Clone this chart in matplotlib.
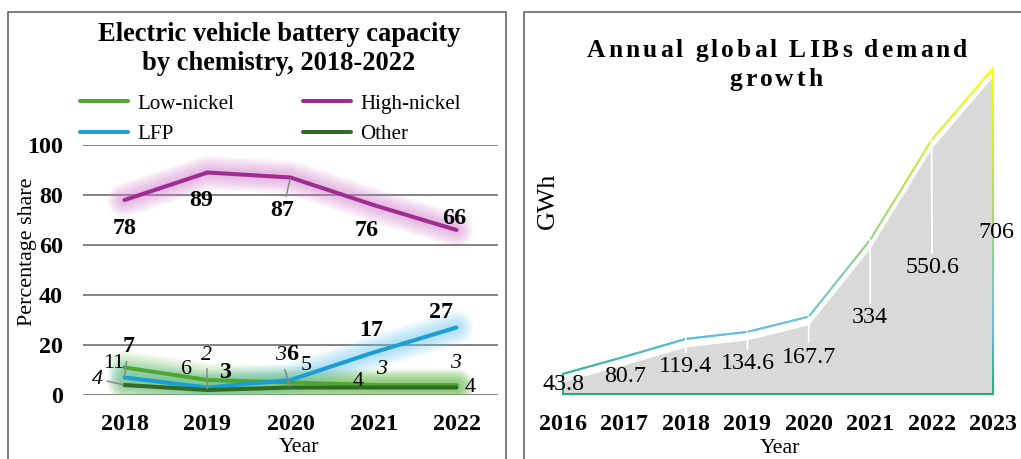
import matplotlib
matplotlib.use("Agg")
import matplotlib.pyplot as plt
import numpy as np
from matplotlib import transforms
from matplotlib.collections import LineCollection
from matplotlib.colors import LinearSegmentedColormap
from matplotlib.patches import Rectangle
from matplotlib.font_manager import FontProperties, findfont
from matplotlib.ft2font import FT2Font

plt.rcParams["font.family"] = ["Liberation Serif", "DejaVu Serif"]

# ---- data: EV battery chemistry shares (%) ----
share_years = ["2018", "2019", "2020", "2021", "2022"]
low_nickel = [11, 6, 5, 4, 4]
high_nickel = [78, 89, 87, 76, 66]
lfp = [7, 3, 6, 17, 27]
other = [4, 2, 3, 3, 3]

# ---- data: annual global LIB demand (GWh) ----
demand_years = ["2016", "2017", "2018", "2019", "2020", "2021", "2022", "2023"]
demand_gwh = [43.8, 80.7, 119.4, 134.6, 167.7, 334, 550.6, 706]

W, H, DPI = 1021, 459, 100
PT = 72 / DPI  # points per pixel

fig = plt.figure(figsize=(W / DPI, H / DPI), dpi=DPI)


def rect_px(x0, y0, x1, y1):
    """Figure-fraction rectangle from pixel box (origin top-left)."""
    return [x0 / W, 1 - y1 / H, (x1 - x0) / W, (y1 - y0) / H]


# panel frames
fig.add_artist(Rectangle((8 / W, -0.05), 498 / W, 1.05 - 12 / H, transform=fig.transFigure,
                         fill=False, ec="#5a5a5a", lw=1.1, zorder=0))
fig.add_artist(Rectangle((524 / W, -0.05), 0.6, 1.05 - 12 / H, transform=fig.transFigure,
                         fill=False, ec="#5a5a5a", lw=1.1, zorder=0))

BOLD_PX = 24
REG_PX = 22

# ================= left: chemistry shares =================
ax1 = fig.add_axes(rect_px(83, 145, 498, 395))
x = np.arange(len(share_years))
ax1.set_xlim(-0.5, len(share_years) - 0.5)
ax1.set_ylim(0, 100)
ax1.set_yticks(np.arange(0, 101, 20))
ax1.set_xticks(x, share_years)
ax1.grid(axis="y", color="#7a7a7a", lw=1.3)
ax1.set_axisbelow(True)
for s in ax1.spines.values():
    s.set_visible(False)
ax1.tick_params(length=0, labelsize=BOLD_PX * PT)
ax1.tick_params(axis="y", pad=14.4)
ax1.tick_params(axis="x", pad=14)
for lab in ax1.get_xticklabels() + ax1.get_yticklabels():
    lab.set_fontweight("bold")

series = [
    ("Low-nickel", low_nickel, "#4ea72e", "#7cc763"),
    ("High-nickel", high_nickel, "#a02b93", "#d27fcb"),
    ("LFP", lfp, "#1b9dd6", "#6ecbef"),
    ("Other", other, "#2f6b22", "#6cb955"),
]

# soft glow under each line
for _, vals, _, glow in series:
    for k in range(11):
        ax1.plot(x, vals, color=glow, lw=(4 + 3 * k) * PT, alpha=0.065,
                 solid_capstyle="round", solid_joinstyle="round", zorder=1)

handles = {}
for name, vals, col, _ in series:
    (ln,) = ax1.plot(x, vals, color=col, lw=4 * PT, solid_capstyle="round",
                     solid_joinstyle="round", zorder=3, label=name)
    handles[name] = ln

# data labels: (dx, dy) offsets in pixels, y up
label_style = {
    "High-nickel": dict(offs=[(0, -29), (-6, -27.5), (-8, -33.5), (-7, -25), (-2, 11)],
                        leader=[False, False, True, False, False], weight="bold", style="normal", size=BOLD_PX),
    "LFP": dict(offs=[(4, 30.5), (18, 14.5), (2, 25), (-2, 22.5), (-16, 15.5)],
                leader=[True, False, False, False, False], weight="bold", style="normal", size=BOLD_PX),
    "Low-nickel": dict(offs=[(-11, 4.5), (-21, 10), (16, 16.5), (-15, 4), (14, -3)],
                       leader=[False] * 5, weight="normal", style="normal", size=REG_PX),
    "Other": dict(offs=[(-27, 6), (-1, 35), (-10, 31.5), (8, 17.5), (-1, 24.5)],
                  leader=[True, True, True, False, False], weight="normal", style="italic", size=REG_PX),
}
for name, vals, _, _ in series:
    st = label_style[name]
    for xi, v, (dx, dy), lead in zip(x, vals, st["offs"], st["leader"]):
        kw = {}
        if lead:
            kw["arrowprops"] = dict(arrowstyle="-", color="#8a8a8a", lw=1.1, shrinkA=1, shrinkB=1)
        ax1.annotate(f"{v}", (xi, v), xytext=(dx * PT, dy * PT), textcoords="offset points",
                     ha="center", va="center", fontsize=st["size"] * PT,
                     fontweight=st["weight"], fontstyle=st["style"], zorder=5, **kw)

ax1.set_ylabel("Percentage share", fontsize=REG_PX * PT, va="center")
ax1.yaxis.set_label_coords((28 - 83) / 415, (395 - 252) / 250)
ax1.set_xlabel("Year", fontsize=REG_PX * PT, va="center")
ax1.xaxis.set_label_coords((299 - 83) / 415, (395 - 447) / 250)

fig.text(279 / W, 1 - 49 / H, "Electric vehicle battery capacity\nby chemistry, 2018-2022",
         ha="center", va="center", fontsize=26.5 * PT, fontweight="bold", linespacing=1.2)

leg_order = ["Low-nickel", "LFP", "High-nickel", "Other"]
fig.legend([handles[n] for n in leg_order], leg_order, ncol=2, loc="upper left",
           bbox_to_anchor=(80 / W, 1 - 94 / H), frameon=False, fontsize=21 * PT,
           handlelength=2.29, handletextpad=0.43, columnspacing=3.29,
           labelspacing=0.5, borderpad=0, borderaxespad=0)

# ================= right: LIB demand =================
ax2 = fig.add_axes(rect_px(563, 48, 993, 394))
xd = np.arange(len(demand_years))
ax2.set_xlim(0, len(demand_years) - 1)
ax2.set_ylim(0, 750)
for s in ax2.spines.values():
    s.set_visible(False)
ax2.set_yticks([])
ax2.set_xticks(xd, demand_years)
ax2.tick_params(length=0, labelsize=BOLD_PX * PT, pad=14.5)
for lab in ax2.get_xticklabels():
    lab.set_fontweight("bold")

# grey area, sitting a little below the outline
shifted = transforms.offset_copy(ax2.transData, fig=fig, x=0, y=-8, units="dots")
ax2.fill_between(xd, demand_gwh, 0, color="#d9d9d9", lw=0, transform=shifted, zorder=1)

# gradient outline coloured by height
edge_cmap = LinearSegmentedColormap.from_list(
    "edge", [(0.0, "#1fb077"), (0.2, "#62c0ea"), (0.5, "#9dd57a"), (1.0, "#ffff00")])
top = max(demand_gwh)
outline = list(zip(xd, demand_gwh)) + [(xd[-1], 0), (xd[0], 0), (xd[0], demand_gwh[0])]
segs, cols = [], []
for (x0, y0), (x1, y1) in zip(outline[:-1], outline[1:]):
    t = np.linspace(0, 1, 41)
    xs, ys = x0 + (x1 - x0) * t, y0 + (y1 - y0) * t
    for i in range(len(t) - 1):
        segs.append([(xs[i], ys[i]), (xs[i + 1], ys[i + 1])])
        cols.append(edge_cmap(0.5 * (ys[i] + ys[i + 1]) / top))
ax2.add_collection(LineCollection(segs, colors=cols, linewidths=2 * PT, clip_on=False,
                                  capstyle="round", zorder=2))

demand_offs = [(0, -11), (0.5, -20), (0, -28), (0.5, -32), (0, -40.5), (0, -78), (0.5, -128), (3, -164)]
demand_leader = [False, False, True, True, True, True, True, False]
for xi, v, (dx, dy), lead in zip(xd, demand_gwh, demand_offs, demand_leader):
    kw = {}
    if lead:
        kw["arrowprops"] = dict(arrowstyle="-", color="white", lw=1.3, shrinkA=1, shrinkB=0)
    ax2.annotate(f"{v:g}", (xi, v), xytext=(dx * PT, dy * PT), textcoords="offset points",
                 ha="center", va="center", fontsize=BOLD_PX * PT, zorder=4, **kw)

ax2.set_ylabel("GWh", fontsize=26 * PT, va="center")
ax2.yaxis.set_label_coords((548 - 563) / 430, (394 - 201) / 346)
ax2.set_xlabel("Year", fontsize=REG_PX * PT, va="center")
ax2.xaxis.set_label_coords((780 - 563) / 430, (394 - 448.5) / 346)


def tracked_line(text, cx, baseline, size_px, track_px):
    """Bold title line with expanded letter spacing, centred at cx."""
    fp = FontProperties(family="Liberation Serif", weight="bold", size=size_px * PT)
    font = FT2Font(findfont(fp))
    font.set_size(size_px * PT, DPI)
    adv = [font.load_char(ord(c)).linearHoriAdvance / 65536 for c in text]
    total = sum(adv) + track_px * (len(text) - 1)
    xpos = cx - total / 2
    for c, a in zip(text, adv):
        if c != " ":
            fig.text(xpos / W, 1 - baseline / H, c, ha="left", va="baseline",
                     fontproperties=fp)
        xpos += a + track_px


tracked_line("Annual global LIBs demand", 777, 57, 25.5, 3.0)
tracked_line("growth", 776, 86, 25.5, 3.0)

fig.savefig("out.png", dpi=DPI)
